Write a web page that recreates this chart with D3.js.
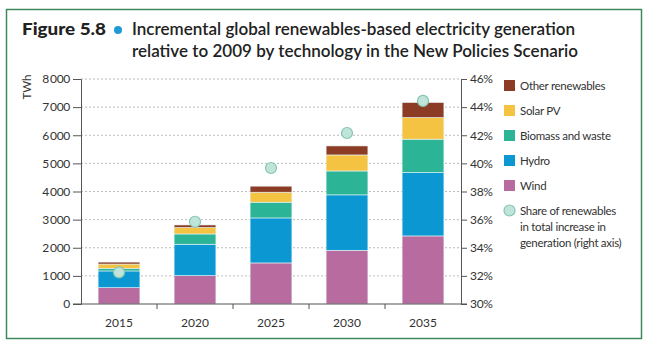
<!DOCTYPE html>
<html>
<head>
<meta charset="utf-8">
<script src="https://cdn.jsdelivr.net/npm/d3@7"></script>
<style>
  body { margin: 0; background: #fff; }
  text { font-family: Lato, "Open Sans", sans-serif; fill: #333; }
</style>
</head>
<body>
<svg id="chart" width="650" height="350"></svg>
<script>
// data (TWh, increment relative to 2009)
const years = ["2015", "2020", "2025", "2030", "2035"]
const wind = [580, 1010, 1460, 1910, 2420]
const hydro = [595, 1115, 1600, 1970, 2255]
const biomass = [95, 365, 560, 850, 1185]
const solar = [150, 230, 355, 570, 770]
const other = [70, 90, 215, 320, 535]
const share = [32.25, 35.85, 39.67, 42.16, 44.44] // % right axis

const leftTicks = [0, 1000, 2000, 3000, 4000, 5000, 6000, 7000, 8000]
const rightTicks = [30, 32, 34, 36, 38, 40, 42, 44, 46]

const seriesNames = ["Wind", "Hydro", "Biomass and waste", "Solar PV", "Other renewables"]
const seriesColors = ["#b76b9e", "#0b98d2", "#2bb496", "#f5c342", "#8c3b24"]

const svg = d3.select("#chart")

// frame
svg.append("rect")
   .attr("x", 6.5).attr("y", 9.5)
   .attr("width", 635).attr("height", 329)
   .attr("fill", "none")
   .attr("stroke", "#3f8a5c")
   .attr("stroke-width", 1.5)

// title
svg.append("text")
   .attr("x", 22).attr("y", 35)
   .attr("font-size", 17).attr("font-weight", 900)
   .attr("textLength", 84)
   .attr("lengthAdjust", "spacingAndGlyphs")
   .style("fill", "#222")
   .text("Figure 5.8")
svg.append("circle")
   .attr("cx", 118).attr("cy", 30).attr("r", 4)
   .attr("fill", "#1d9bd7")
const titleLines = ["Incremental global renewables-based electricity generation",
                    "relative to 2009 by technology in the New Policies Scenario"]
svg.selectAll(".title-line")
   .data(titleLines)
   .join("text")
   .attr("class", "title-line")
   .attr("x", 132)
   .attr("y", (d, i) => 35 + i * 22)
   .attr("font-size", 16.5).attr("font-weight", 600)
   .attr("textLength", (d, i) => i === 0 ? 443 : 446)
   .attr("lengthAdjust", "spacingAndGlyphs")
   .style("fill", "#222")
   .text(d => d)

const plot = { left: 81, right: 461, top: 79, bottom: 304 }

const x = d3.scaleBand().domain(years).range([plot.left, plot.right]).paddingInner(0.45).paddingOuter(0.225)
const xBand = d3.scaleBand().domain(years).range([plot.left, plot.right])
const y = d3.scaleLinear().domain([0, 8000]).range([plot.bottom, plot.top])
const yR = d3.scaleLinear().domain([30, 46]).range([plot.bottom, plot.top])

// gridlines
svg.append("g")
   .selectAll("line")
   .data(leftTicks.filter(d => d > 0))
   .join("line")
   .attr("x1", plot.left).attr("x2", plot.right)
   .attr("y1", d => y(d)).attr("y2", d => y(d))
   .attr("stroke", "#aaa")
   .attr("stroke-width", 0.8)
   .attr("stroke-dasharray", "2,2")

// stacked bars
const table = years.map((yr, i) => ({
    year: yr, Wind: wind[i], Hydro: hydro[i], "Biomass and waste": biomass[i],
    "Solar PV": solar[i], "Other renewables": other[i]
}))
const stacked = d3.stack().keys(seriesNames)(table)

svg.append("g")
   .selectAll("g")
   .data(stacked)
   .join("g")
   .attr("fill", (d, i) => seriesColors[i])
   .selectAll("rect")
   .data(d => d)
   .join("rect")
   .attr("x", d => x(d.data.year))
   .attr("width", x.bandwidth())
   .attr("y", d => y(d[1]))
   .attr("height", d => y(d[0]) - y(d[1]))
   .attr("stroke", "#e8f4f8")
   .attr("stroke-width", 0.6)

// left axis
const leftAxis = d3.axisLeft(y).tickValues(leftTicks).tickSize(8).tickPadding(3)
                   .tickFormat(d => d3.format(",")(d).replace(",", "\u2009"))
const gL = svg.append("g").attr("transform", `translate(${plot.left},0)`).call(leftAxis)
gL.select(".domain").attr("stroke", "#555")
gL.selectAll(".tick line").attr("stroke", "#555")
gL.selectAll("text").attr("font-size", 12).attr("letter-spacing", -0.3).style("fill", "#333").attr("font-family", "Lato")

// right axis
const rightAxis = d3.axisRight(yR).tickValues(rightTicks).tickSize(6).tickPadding(3).tickFormat(d => d + "%")
const gR = svg.append("g").attr("transform", `translate(${plot.right},0)`).call(rightAxis)
gR.select(".domain").attr("stroke", "#555")
gR.selectAll(".tick line").attr("stroke", "#555")
gR.selectAll("text").attr("font-size", 12).attr("letter-spacing", -0.3).style("fill", "#333").attr("font-family", "Lato")

// bottom axis with ticks at band boundaries
svg.append("line")
   .attr("x1", plot.left - 8).attr("x2", plot.right + 6)
   .attr("y1", plot.bottom).attr("y2", plot.bottom)
   .attr("stroke", "#555")
svg.append("g")
   .selectAll("line")
   .data(years.slice(1))
   .join("line")
   .attr("x1", d => xBand(d)).attr("x2", d => xBand(d))
   .attr("y1", plot.bottom).attr("y2", plot.bottom + 5)
   .attr("stroke", "#555")
svg.append("g")
   .selectAll("text")
   .data(years)
   .join("text")
   .attr("x", d => x(d) + x.bandwidth() / 2)
   .attr("y", plot.bottom + 23)
   .attr("text-anchor", "middle")
   .attr("font-size", 12)
   .text(d => d)

// share dots
svg.append("g")
   .selectAll("circle")
   .data(share)
   .join("circle")
   .attr("cx", (d, i) => x(years[i]) + x.bandwidth() / 2)
   .attr("cy", d => yR(d))
   .attr("r", 5.5)
   .attr("fill", "#bfe5da")
   .attr("stroke", "#86c4b1")
   .attr("stroke-width", 1.2)

// TWh label
svg.append("text")
   .attr("transform", "translate(31,87) rotate(-90)")
   .attr("text-anchor", "middle")
   .attr("font-size", 11.5)
   .text("TWh")

// legend
const legendItems = seriesNames.map((n, i) => ({ name: n, color: seriesColors[i] })).reverse()
const legend = svg.append("g")
legend.selectAll("rect")
      .data(legendItems)
      .join("rect")
      .attr("x", 504)
      .attr("y", (d, i) => 80 + i * 25)
      .attr("width", 11).attr("height", 11)
      .attr("fill", d => d.color)
legend.selectAll("text")
      .data(legendItems)
      .join("text")
      .attr("x", 520)
      .attr("y", (d, i) => 89.5 + i * 25)
      .attr("font-size", 11.5)
      .attr("letter-spacing", -0.3)
      .text(d => d.name)
legend.append("circle")
      .attr("cx", 509.5).attr("cy", 210.5).attr("r", 5.5)
      .attr("fill", "#bfe5da")
      .attr("stroke", "#86c4b1")
      .attr("stroke-width", 1.2)
const shareLines = ["Share of renewables", "in total increase in", "generation (right axis)"]
legend.selectAll(".share-line")
      .data(shareLines)
      .join("text")
      .attr("class", "share-line")
      .attr("x", 520)
      .attr("y", (d, i) => 215 + i * 16)
      .attr("font-size", 11.5)
      .attr("letter-spacing", -0.3)
      .text(d => d)
</script>
</body>
</html>
